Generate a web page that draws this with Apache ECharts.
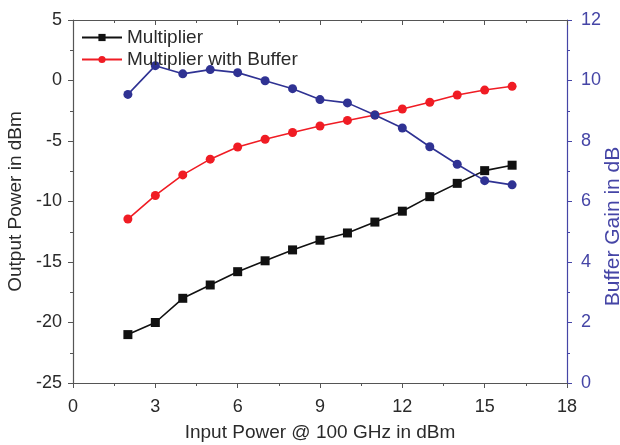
<!DOCTYPE html>
<html>
<head>
<meta charset="utf-8">
<script src="https://cdn.jsdelivr.net/npm/echarts@6/dist/echarts.min.js"></script>
<style>html,body{margin:0;padding:0;background:#fff}#c{width:620px;height:445px}</style>
</head>
<body>
<div id="c"></div>
<script>
const inputPower = [2, 3, 4, 5, 6, 7, 8, 9, 10, 11, 12, 13, 14, 15, 16];
const multiplier = [-21.0, -20.0, -18.0, -16.9, -15.8, -14.9, -14.0, -13.2, -12.6, -11.7, -10.8, -9.6, -8.5, -7.45, -7.0];
const multiplierBuffer = [-11.45, -9.5, -7.8, -6.5, -5.5, -4.86, -4.3, -3.76, -3.3, -2.85, -2.36, -1.8, -1.2, -0.79, -0.48];
const bufferGain = [9.54, 10.49, 10.22, 10.36, 10.26, 9.99, 9.73, 9.37, 9.26, 8.86, 8.43, 7.81, 7.23, 6.69, 6.55];

const FONT = 'Liberation Sans, Arial, sans-serif';
const BLUE = '#2f3293';
const AXIS_BLUE = '#4545a6';
const TXT = '#2a2a2a';
const pair = (xs, ys) => xs.map((x, i) => [x, ys[i]]);

const chart = echarts.init(document.getElementById('c'), null, {renderer: 'canvas'});
chart.setOption({
  animation: false,
  backgroundColor: '#fff',
  grid: {left: 73, right: 53, top: 20, bottom: 62, containLabel: false, outerBoundsMode: 'none'},
  legend: {
    orient: 'vertical', left: 76, top: 23, itemGap: 3, itemWidth: 40, itemHeight: 9,
    textStyle: {fontFamily: FONT, fontSize: 19, color: TXT},
    data: ['Multiplier', 'Multiplier with Buffer']
  },
  xAxis: [{
    type: 'value', min: 0, max: 18, interval: 3, position: 'bottom',
    name: 'Input Power @ 100 GHz in dBm', nameLocation: 'middle', nameGap: 40,
    nameTextStyle: {fontFamily: FONT, fontSize: 19, color: TXT},
    axisLine: {show: true, onZero: false, lineStyle: {color: '#555', width: 1.2}},
    axisTick: {show: true, inside: false, length: 5, lineStyle: {color: '#555'}},
    minorTick: {show: true, splitNumber: 2, length: 3, lineStyle: {color: '#555'}},
    axisLabel: {fontFamily: FONT, fontSize: 18, color: TXT, margin: 15},
    splitLine: {show: false}
  }, {
    type: 'value', min: 0, max: 18, interval: 3, position: 'top',
    axisLine: {show: true, onZero: false, lineStyle: {color: '#555', width: 1.2}},
    axisTick: {show: true, inside: true, length: 5, lineStyle: {color: '#555'}},
    minorTick: {show: true, splitNumber: 2, length: 3, lineStyle: {color: '#555'}},
    axisLabel: {show: false},
    splitLine: {show: false}
  }],
  yAxis: [{
    type: 'value', min: -25, max: 5, interval: 5, position: 'left',
    name: 'Output Power in dBm', nameLocation: 'middle', nameGap: 48,
    nameTextStyle: {fontFamily: FONT, fontSize: 19, color: TXT},
    axisLine: {show: true, onZero: false, lineStyle: {color: '#555', width: 1.2}},
    axisTick: {show: true, inside: false, length: 5, lineStyle: {color: '#555'}},
    minorTick: {show: true, splitNumber: 2, length: 3, lineStyle: {color: '#555'}},
    axisLabel: {fontFamily: FONT, fontSize: 18, color: TXT, margin: 11},
    splitLine: {show: false}
  }, {
    type: 'value', min: 0, max: 12, interval: 2, position: 'right',
    name: 'Buffer Gain in dB', nameLocation: 'middle', nameGap: 36, nameMoveOverlap: false,
    nameTextStyle: {fontFamily: FONT, fontSize: 21, color: AXIS_BLUE, padding: [0, 50, 0, 0]},
    axisLine: {show: true, onZero: false, lineStyle: {color: AXIS_BLUE, width: 1.2}},
    axisTick: {show: true, inside: false, length: 5, lineStyle: {color: AXIS_BLUE}},
    minorTick: {show: true, splitNumber: 2, length: 3, lineStyle: {color: AXIS_BLUE}},
    axisLabel: {fontFamily: FONT, fontSize: 18, color: AXIS_BLUE, margin: 14},
    splitLine: {show: false}
  }],
  series: [{
    name: 'Multiplier', type: 'line', xAxisIndex: 0, yAxisIndex: 0,
    data: pair(inputPower, multiplier),
    symbol: 'rect', symbolSize: 9,
    lineStyle: {color: '#111', width: 1.6},
    itemStyle: {color: '#111'}
  }, {
    name: 'Multiplier with Buffer', type: 'line', xAxisIndex: 0, yAxisIndex: 0,
    data: pair(inputPower, multiplierBuffer),
    symbol: 'circle', symbolSize: 9,
    lineStyle: {color: '#f01c24', width: 1.6},
    itemStyle: {color: '#f01c24'}
  }, {
    name: 'Buffer Gain', type: 'line', xAxisIndex: 0, yAxisIndex: 1,
    data: pair(inputPower, bufferGain),
    symbol: 'circle', symbolSize: 9,
    lineStyle: {color: BLUE, width: 1.6},
    itemStyle: {color: BLUE}
  }]
});
</script>
</body>
</html>
